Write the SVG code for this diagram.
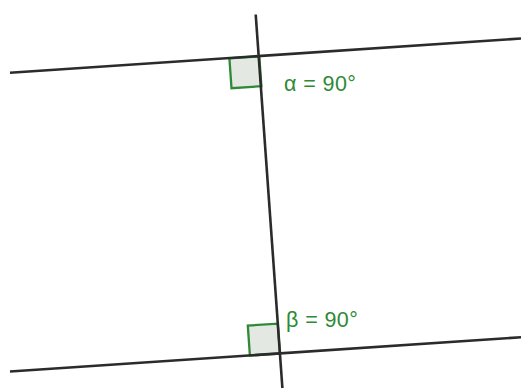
<svg xmlns="http://www.w3.org/2000/svg" width="521" height="388" viewBox="0 0 521 388">
<style>
.ln{stroke:#2b2b2b;stroke-width:2.6;fill:none;stroke-linecap:butt}
.ra{fill:#e3e8e3;stroke:#2e8a35;stroke-width:2.3}
.lb{font-family:"Liberation Sans",Arial,sans-serif;font-size:21.5px;letter-spacing:0.4px;fill:#2e8a35}
</style>
<rect width="521" height="388" fill="#ffffff"/>
<g id="angle-alpha">
<polygon class="ra" points="259.3,56.3 229.4,58.3 231.5,88.2 261.4,86.2"/>
<text class="lb" x="284" y="91">α = 90°</text>
</g>
<g id="angle-beta">
<polygon class="ra" points="279.9,353.5 249.9,355.5 247.8,325.6 277.8,323.6"/>
<text class="lb" x="286" y="327">β = 90°</text>
</g>
<g id="connectors">
<line class="ln" x1="10" y1="72.8" x2="521" y2="38.5"/>
<line class="ln" x1="10" y1="371.5" x2="521" y2="337.3"/>
<line class="ln" x1="255.7" y1="14.5" x2="282.4" y2="388"/>
</g>
</svg>
